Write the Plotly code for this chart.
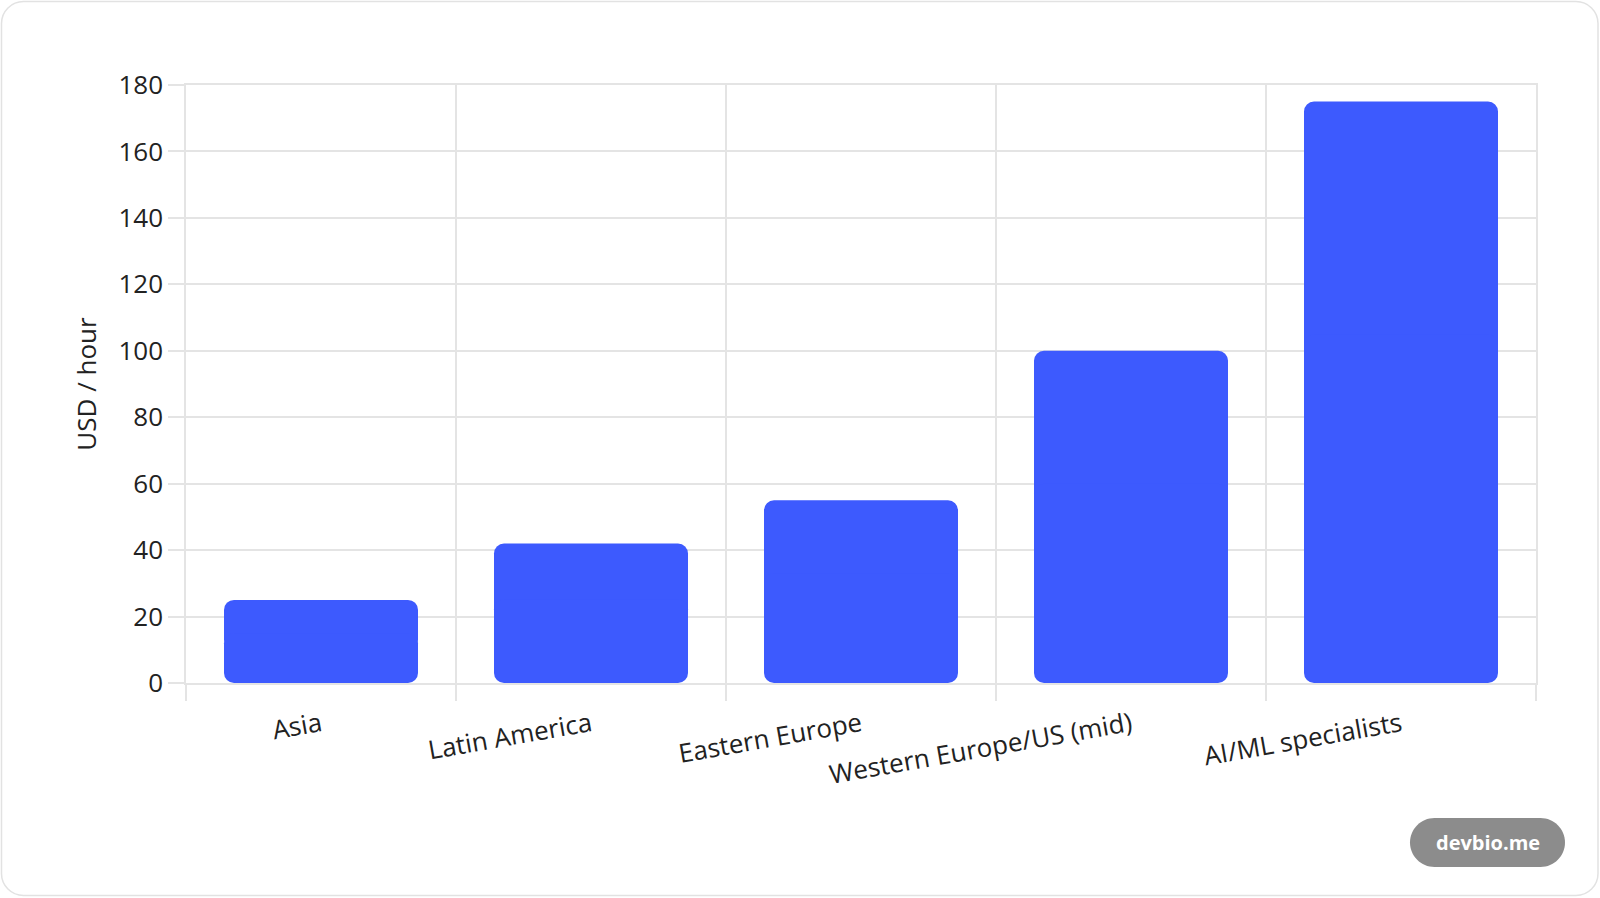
import plotly.graph_objects as go

# hourly rates by region
regions = ["Asia", "Latin America", "Eastern Europe", "Western Europe/US (mid)", "AI/ML specialists"]
rates = [25, 42, 55, 100, 175]
y_ticks = [0, 20, 40, 60, 80, 100, 120, 140, 160, 180]

W, H = 1600, 898
# plot area 1350px wide -> 270px per category, 194px bars, whole-pixel edges
L, R, T, B = 186, 64, 85, 215
BAR_COLOR = "#3d5afe"
GRID = "#e4e4e4"
FONT = "Open Sans"


def to_paper(px, py):
    # pixel position on the page -> paper coords of the plot area
    pw = W - L - R
    ph = H - T - B
    return (px - L) / pw, (H - B - py) / ph


def rounded_rect(x0, y0, x1, y1, r):
    k = 0.5523 * r
    pts = [
        ("M", [(x0 + r, y0)]),
        ("L", [(x1 - r, y0)]),
        ("C", [(x1 - r + k, y0), (x1, y0 + r - k), (x1, y0 + r)]),
        ("L", [(x1, y1 - r)]),
        ("C", [(x1, y1 - r + k), (x1 - r + k, y1), (x1 - r, y1)]),
        ("L", [(x0 + r, y1)]),
        ("C", [(x0 + r - k, y1), (x0, y1 - r + k), (x0, y1 - r)]),
        ("L", [(x0, y0 + r)]),
        ("C", [(x0, y0 + r - k), (x0 + r - k, y0), (x0 + r, y0)]),
    ]
    out = []
    for cmd, coords in pts:
        s = " ".join("%.5f,%.5f" % to_paper(a, b) for a, b in coords)
        out.append(cmd + " " + s)
    return " ".join(out) + " Z"


fig = go.Figure()

# two overlapping halves so that both ends of each bar get rounded corners
bar_marker = dict(color=BAR_COLOR, cornerradius=10, line=dict(width=0))
fig.add_trace(go.Bar(
    x=regions, y=[v * 0.6 for v in rates], base=[v * 0.4 for v in rates],
    marker=bar_marker,
    customdata=rates, hovertemplate="%{x}: %{customdata}<extra></extra>",
))
fig.add_trace(go.Bar(
    x=regions, y=[-v * 0.6 for v in rates], base=[v * 0.6 for v in rates],
    marker=bar_marker,
    hoverinfo="skip",
))

fig.update_layout(
    width=W, height=H,
    margin=dict(l=L, r=R, t=T, b=B),
    paper_bgcolor="white", plot_bgcolor="white",
    barmode="overlay", bargap=76 / 270, showlegend=False,
    font=dict(family=FONT, color="#222222", size=26),
)

fig.update_xaxes(
    type="category", tickson="boundaries", range=[-0.5, 4.5],
    showgrid=True, gridcolor=GRID, gridwidth=1.5,
    ticks="outside", ticklen=16, tickcolor=GRID, tickwidth=1.5,
    showline=True, mirror=True, linecolor=GRID, linewidth=1.5,
    zeroline=False, layer="below traces",
    tickangle=-10, tickfont=dict(size=26), ticklabelstandoff=15,
)
fig.update_yaxes(
    range=[0, 180], tickvals=y_ticks,
    showgrid=True, gridcolor=GRID, gridwidth=1.5,
    ticks="outside", ticklen=16, tickcolor=GRID, tickwidth=1.5,
    showline=True, mirror=True, linecolor=GRID, linewidth=1.5,
    zeroline=False, layer="below traces", tickfont=dict(size=26),
    title=dict(text="USD / hour", font=dict(size=26), standoff=14),
)

# card outline
fig.add_shape(type="path", xref="paper", yref="paper", layer="below",
              path=rounded_rect(1.5, 1.5, 1598, 895.5, 22),
              line=dict(color="#e2e2e2", width=1.5), fillcolor="rgba(0,0,0,0)")

# watermark pill
fig.add_shape(type="path", xref="paper", yref="paper",
              path=rounded_rect(1410, 818, 1565, 867, 24.5),
              line=dict(width=0), fillcolor="#8c8c8c")
cx, cy = to_paper(1487.5, 842.5)
fig.add_annotation(x=cx, y=cy, xref="paper", yref="paper", xanchor="center", yanchor="middle",
                   text="<b>devbio.me</b>", showarrow=False,
                   font=dict(size=20, color="white", family=FONT))

fig.write_html("out.html", config={"displayModeBar": False},
               post_script="document.body.style.margin='0';")
